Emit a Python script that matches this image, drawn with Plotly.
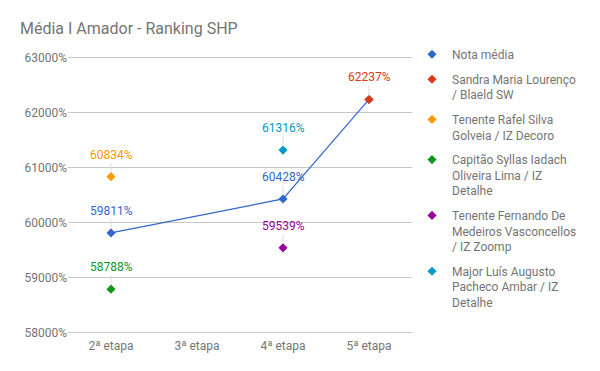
import plotly.graph_objects as go

categories = ["2ª etapa", "3ª etapa", "4ª etapa", "5ª etapa"]
series_names = [
    "Nota média",
    "Sandra Maria Lourenço<br>/ Blaeld SW",
    "Tenente Rafel Silva<br>Golveia / IZ Decoro",
    "Capitão Syllas Iadach<br>Oliveira Lima / IZ<br>Detalhe",
    "Tenente Fernando De<br>Medeiros Vasconcellos<br>/ IZ Zoomp",
    "Major Luís Augusto<br>Pacheco Ambar / IZ<br>Detalhe",
]
nota_media = [598.11, None, 604.28, 622.37]
sandra = [None, None, None, 622.37]
rafel = [608.34, None, None, None]
syllas = [587.88, None, None, None]
fernando = [None, None, 595.39, None]
luis = [None, None, 613.16, None]
series_values = [nota_media, sandra, rafel, syllas, fernando, luis]
colors = ["#3366cc", "#dc3912", "#ff9900", "#109618", "#990099", "#0099c6"]
# which points get a value label (series index, category index)
labelled = [(0, 0), (0, 2), (1, 3), (2, 0), (3, 0), (4, 2), (5, 2)]
y_ticks = [580, 590, 600, 610, 620, 630]

fig = go.Figure()
for i, (name, vals, col) in enumerate(zip(series_names, series_values, colors)):
    if i == 0:
        fig.add_trace(go.Scatter(
            x=categories, y=vals, name=name, mode="lines+markers",
            connectgaps=True, showlegend=False,
            line=dict(color=col, width=1.2),
            marker=dict(symbol="diamond", size=7, color=col),
        ))
        # legend entry showing only the diamond
        fig.add_trace(go.Scatter(
            x=[categories[0]], y=[None], name=name, mode="markers",
            marker=dict(symbol="diamond", size=7, color=col),
            legendgroup=f"g{i}",
        ))
    else:
        fig.add_trace(go.Scatter(
            x=categories, y=vals, name=name, mode="markers",
            marker=dict(symbol="diamond", size=7, color=col),
            legendgroup=f"g{i}",
        ))

for si, ci in labelled:
    v = series_values[si][ci]
    fig.add_annotation(
        x=categories[ci], y=v, text=f"{round(v*100):d}%",
        showarrow=True, arrowhead=0, arrowwidth=1, arrowcolor="#dddddd",
        ax=0, ay=-22, standoff=4,
        font=dict(family="Roboto", size=12, color=colors[si]),
    )

pad = 1.5 / 5.5  # 1.5 pixels in data units, puts gridlines on pixel centres

fig.update_layout(
    width=600, height=371,
    margin=dict(l=60, r=196, t=48, b=45),
    paper_bgcolor="white", plot_bgcolor="white",
    font=dict(family="Roboto", size=12, color="#757575"),
    title=dict(text="Média I Amador - Ranking SHP", x=12/600, xref="container",
               xanchor="left", y=1-20/371, yanchor="middle",
               font=dict(family="Roboto", size=16, color="#757575")),
    xaxis=dict(type="category", categoryorder="array", categoryarray=categories,
               range=[-0.5, 3.5], showgrid=False, showline=False, zeroline=False,
               ticks="", ticklabelstandoff=3,
               tickfont=dict(size=12, color="#757575")),
    yaxis=dict(range=[580 - pad, 630 + pad], tickvals=y_ticks, tickformat=".0%",
               showgrid=True, gridcolor="#c8c8c8", gridwidth=1, zeroline=False,
               showline=False, ticks="", tickfont=dict(size=12, color="#757575")),
    showlegend=True,
    legend=dict(x=1.0, xanchor="left", y=1.058, yanchor="top", valign="top",
                font=dict(family="Roboto", size=12, color="#757575"),
                tracegroupgap=6, maxheight=360),
)

fig.write_html("out.html")
